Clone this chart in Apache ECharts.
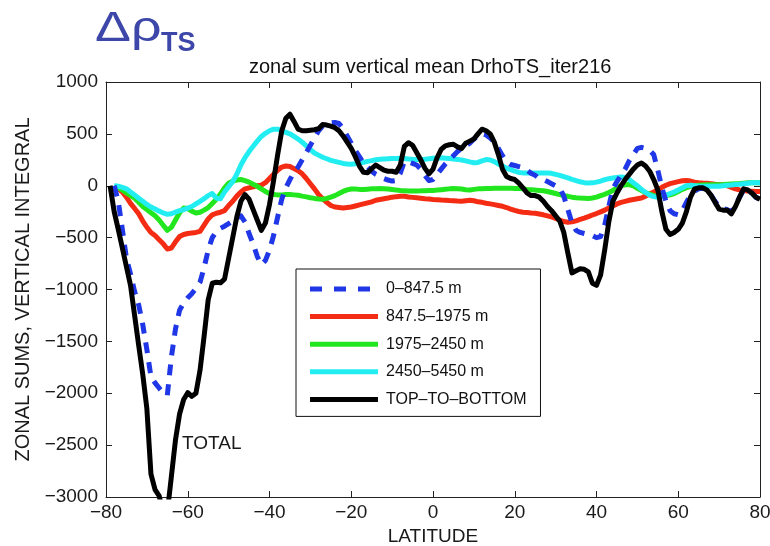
<!DOCTYPE html>
<html>
<head>
<meta charset="utf-8">
<script src="https://cdn.jsdelivr.net/npm/echarts@6/dist/echarts.min.js"></script>
<style>
  html, body { margin: 0; padding: 0; background: #fff; }
  #chart { width: 770px; height: 546px; }
</style>
</head>
<body>
<div id="chart"></div>
<script>
// Latitude grid, one value per degree from -79 to 80
const latitude = Array.from({ length: 160 }, (_, i) => i - 79);

// Zonal sums of the vertical integral for each depth layer (rows of ten degrees)
const layer0to847 = [
  null, 0, -150, -420, -700, -850, -1020, -1150, -1340, -1580,
  -1840, -1900, -1950, -2000, -2020, -1650, -1380, -1200, -1130, -1080,
  -1040, -990, -930, -790, -620, -500, -440, -410, -390, -365,
  -340, -310, -290, -350, -460, -560, -680, -760, -720, -620,
  -480, -300, -130, -20, 60, 130, 180, 250, 320, 390,
  460, 530, 575, 595, 605, 610, 600, 550, 480, 410,
  340, 280, 220, 180, 140, 110, 90, 70, 55, 45,
  50, 120, 235, 230, 215, 200, 160, 100, 50, 60,
  110, 160, 210, 250, 290, 330, 360, 385, 410, 450,
  480, 500, 490, 460, 420, 360, 290, 230, 205, 195,
  185, 175, 150, 120, 100, 70, 60, 40, 20, 0,
  -20, -100, -230, -360, -430, -450, -460, -470, -480, -500,
  -490, -380, -200, -30, 40, 100, 160, 240, 300, 360,
  370, 360, 340, 300, 150, -20, -150, -240, -270, -280,
  -240, -160, -90, -50, -30, -25, -45, -90, -150, -200,
  -220, -230, -250, -190, -110, -40, -40, -70, -110, -130
];
const layer847to1975 = [
  null, 0, -30, -60, -110, -170, -220, -270, -340, -400,
  -450, -480, -520, -560, -610, -600, -540, -490, -470, -460,
  -455, -450, -440, -380, -320, -280, -265, -255, -240, -190,
  -150, -100, -60, -30, -20, -10, 0, 5, 30, 70,
  110, 150, 180, 190, 185, 165, 145, 115, 70, 20,
  -30, -85, -125, -160, -190, -205, -210, -215, -210, -205,
  -195, -185, -175, -165, -155, -140, -132, -125, -118, -110,
  -105, -102, -102, -108, -112, -116, -120, -125, -128, -132,
  -135, -138, -140, -143, -145, -148, -150, -145, -140, -145,
  -155, -160, -168, -175, -182, -190, -198, -210, -225, -238,
  -248, -255, -258, -262, -265, -272, -280, -290, -300, -315,
  -330, -345, -352, -348, -338, -325, -312, -298, -282, -268,
  -252, -235, -215, -195, -175, -160, -150, -140, -132, -125,
  -118, -100, -80, -60, -40, -15, 5, 20, 30, 40,
  48, 50, 45, 35, 30, 27, 25, 20, 15, 12,
  10, 0, -15, -30, -40, -45, -50, -52, -55, -55
];
const layer1975to2450 = [
  null, 0, -20, -40, -70, -95, -120, -160, -200, -230,
  -260, -290, -330, -380, -430, -400, -330, -260, -215, -220,
  -245, -262, -255, -235, -210, -170, -130, -80, -20, 25,
  45, 55, 60, 50, 35, 15, -5, -30, -55, -75,
  -85, -88, -88, -85, -85, -88, -92, -100, -107, -115,
  -122, -128, -130, -122, -110, -95, -75, -55, -40, -32,
  -32, -35, -37, -33, -30, -28, -27, -28, -32, -37,
  -42, -46, -48, -50, -50, -50, -49, -47, -46, -45,
  -42, -38, -34, -30, -27, -28, -32, -38, -40, -35,
  -30, -28, -27, -26, -25, -25, -25, -25, -25, -26,
  -27, -30, -35, -38, -42, -45, -48, -55, -65, -75,
  -85, -95, -102, -110, -115, -118, -120, -122, -118, -110,
  -95, -82, -65, -45, -22, 0, 10, 12, 0, -25,
  -45, -65, -80, -95, -100, -100, -95, -88, -75, -55,
  -35, -18, -5, 0, 5, 8, 10, 10, 10, 10,
  12, 15, 18, 20, 22, 25, 28, 30, 30, 30
];
const layer2450to5450 = [
  null, 0, -5, -15, -30, -60, -90, -120, -150, -180,
  -205, -225, -245, -262, -275, -270, -255, -240, -230, -215,
  -200, -175, -150, -125, -95, -75, -120, -125, -60, -10,
  40, 110, 200, 270, 330, 380, 430, 475, 505, 530,
  545, 545, 530, 515, 500, 475, 450, 420, 385, 350,
  315, 295, 275, 260, 245, 235, 225, 215, 210, 208,
  212, 218, 225, 235, 242, 250, 255, 258, 260, 262,
  263, 264, 262, 258, 255, 254, 254, 256, 260, 265,
  268, 270, 266, 262, 258, 254, 248, 240, 230, 222,
  225, 240, 252, 248, 232, 210, 190, 170, 155, 140,
  128, 124, 124, 124, 124, 124, 124, 122, 120, 110,
  100, 88, 76, 62, 50, 38, 30, 27, 28, 35,
  45, 58, 68, 75, 80, 85, 80, 60, 30, 0,
  -35, -65, -90, -105, -110, -105, -90, -75, -60, -40,
  -20, 0, 5, 0, -5, -5, -5, -5, -5, -5,
  0, 5, 8, 12, 15, 20, 25, 28, 30, 30
];
const topToBottom = [
  0, -250, -420, -600, -780, -960, -1250, -1540, -1820, -2150,
  -2780, -2930, -2990, -3150, -3150, -2800, -2450, -2200, -2060, -1995,
  -2030, -2000, -1780, -1450, -1100, -940, -930, -935, -900, -700,
  -500, -300, -150, -85, -130, -230, -330, -430, -360, -180,
  50, 300, 530, 650, 690, 620, 545, 530, 530, 535,
  540, 550, 590, 585, 575, 560, 530, 480, 420, 360,
  280, 190, 130, 125, 165, 200, 175, 150, 140, 140,
  130, 200, 380, 415, 390, 320, 250, 170, 115, 160,
  270, 350, 385, 395, 400, 375, 360, 410, 430, 450,
  500, 545, 530, 500, 420, 300, 160, 90, 70, 60,
  25, -20, -70, -95, -95, -110, -150, -200, -240, -290,
  -340, -450, -650, -840, -820, -800, -805, -830, -940, -960,
  -860, -620, -350, -150, -70, 0, 60, 110, 160, 200,
  220, 190, 140, 60, -40, -250, -420, -470, -450, -420,
  -360, -250, -110, -30, -20, -20, -40, -90, -160, -225,
  -235, -235, -270, -200, -110, -30, -40, -70, -110, -130
];

const seriesNames = ['0–847.5 m', '847.5–1975 m', '1975–2450 m', '2450–5450 m', 'TOP–TO–BOTTOM'];
const xTicks = { min: -80, max: 80, step: 20 };
const yTicks = { min: -3000, max: 1000, step: 500 };
const totalLabelAt = [-61.4, -2490];

const FONT = "'Liberation Sans', Arial, Helvetica, sans-serif";
const minus = v => String(v).replace('-', '\u2212');

// Legend keys: a solid bar, and three dashes for the dashed layer
const SOLID_KEY = 'path://M0,0h68v5h-68z';
const DASHED_KEY = 'path://M0,0h12v5h-12z M24,0h12v5h-12z M48,0h12v5h-12z M67.9,2.4h0.1v0.2h-0.1z';

function lineSeries(name, values, color, dash, z) {
  return {
    name: name,
    type: 'line',
    data: latitude.map((lat, i) => [lat, values[i]]),
    symbol: 'none',
    showSymbol: false,
    clip: true,
    silent: true,
    z: z,
    lineStyle: { color: color, width: 5, type: dash || 'solid', cap: 'butt', join: 'round' },
    itemStyle: { color: color }
  };
}

function frameAxis(position, isX, show) {
  const lim = isX ? xTicks : yTicks;
  return {
    type: 'value',
    position: position,
    min: lim.min,
    max: lim.max,
    interval: lim.step,
    axisLine: { show: true, onZero: false, lineStyle: { color: '#222', width: 1 } },
    axisTick: { show: true, inside: true, length: 6, lineStyle: { color: '#222', width: 1 } },
    splitLine: { show: false },
    axisLabel: {
      show: show,
      color: '#1a1a1a',
      fontFamily: FONT,
      fontSize: 19,
      margin: isX ? 6 : 8,
      formatter: minus
    }
  };
}

const xBottom = frameAxis('bottom', true, true);
xBottom.name = 'LATITUDE';
xBottom.nameLocation = 'middle';
xBottom.nameGap = 27;
xBottom.nameTextStyle = { color: '#1a1a1a', fontFamily: FONT, fontSize: 19 };

const yLeft = frameAxis('left', false, true);
yLeft.name = 'ZONAL SUMS, VERTICAL INTEGRAL';
yLeft.nameLocation = 'middle';
yLeft.nameGap = 67;
yLeft.nameTextStyle = { color: '#1a1a1a', fontFamily: FONT, fontSize: 20 };

const chart = echarts.init(document.getElementById('chart'), null, { renderer: 'canvas' });
chart.setOption({
  animation: false,
  backgroundColor: '#fff',
  title: {
    text: 'zonal sum vertical mean DrhoTS_iter216',
    left: 249,
    top: 57,
    padding: 0,
    textStyle: { color: '#111', fontFamily: FONT, fontSize: 20, fontWeight: 'normal' }
  },
  grid: { left: 106, right: 10, top: 82, bottom: 49, containLabel: false, outerBoundsMode: 'none' },
  xAxis: [xBottom, frameAxis('top', true, false)],
  yAxis: [yLeft, frameAxis('right', false, false)],
  legend: {
    orient: 'vertical',
    left: 296,
    top: 269,
    padding: [12, 14, 9, 14],
    itemWidth: 68,
    itemHeight: 14,
    itemGap: 11.6,
    selectedMode: false,
    borderColor: '#111',
    borderWidth: 1,
    backgroundColor: '#fff',
    textStyle: { color: '#111', fontFamily: FONT, fontSize: 16, padding: [0, 0, 0, 3] },
    data: seriesNames.map((n, i) => ({ name: n, icon: i === 0 ? DASHED_KEY : SOLID_KEY }))
  },
  series: [
    lineSeries(seriesNames[1], layer847to1975, '#f52c14', null, 2),
    lineSeries(seriesNames[2], layer1975to2450, '#22e61e', null, 3),
    lineSeries(seriesNames[3], layer2450to5450, '#22eef2', null, 4),
    lineSeries(seriesNames[0], layer0to847, '#1f37e6', [11, 9], 5),
    lineSeries(seriesNames[4], topToBottom, '#000000', null, 6)
  ]
});

// Heading symbol and the TOTAL annotation next to the black curve
const totalPx = chart.convertToPixel({ gridIndex: 0 }, totalLabelAt);
chart.setOption({
  graphic: [
    {
      type: 'text', x: 95, y: 29, scaleX: 1.28,
      style: { text: 'Δρ', fill: '#3d47a9', font: '42px ' + FONT, verticalAlign: 'middle', align: 'left' }
    },
    {
      type: 'text', x: 161, y: 44,
      style: { text: 'TS', fill: '#3d47a9', font: 'bold 27px ' + FONT, verticalAlign: 'middle', align: 'left' }
    },
    {
      type: 'text', x: totalPx[0], y: totalPx[1],
      style: { text: 'TOTAL', fill: '#1a1a1a', font: '19px ' + FONT, verticalAlign: 'middle', align: 'left' }
    }
  ]
});
</script>
</body>
</html>
